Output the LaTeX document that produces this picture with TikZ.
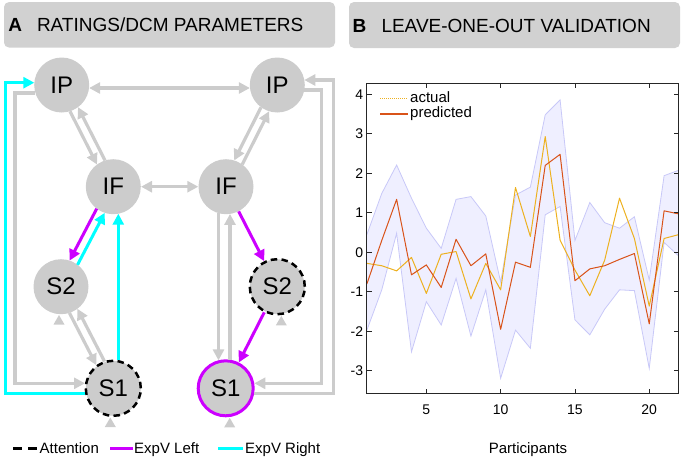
\documentclass[tikz,border=0pt]{standalone}
\usepackage{fontspec}
\setmainfont{Liberation Sans}
\usetikzlibrary{arrows.meta,calc}
\definecolor{lgray}{RGB}{204,204,204}
\definecolor{hdrgray}{RGB}{209,209,209}
\definecolor{mag}{RGB}{204,0,255}
\definecolor{cyn}{RGB}{0,255,255}
\definecolor{mred}{RGB}{217,83,25}
\definecolor{myel}{RGB}{237,177,32}
\definecolor{bandf}{RGB}{239,239,255}
\definecolor{bande}{RGB}{200,200,248}
\definecolor{axc}{RGB}{38,38,38}
\begin{document}
\begin{tikzpicture}[x=1pt,y=-1pt,
  >={Triangle[length=11pt,width=11pt]},
  region/.style={circle,fill=lgray,minimum size=55pt,inner sep=0pt,font=\fontsize{24}{24}\selectfont},
  attn/.style={draw=black,line width=2.5pt,dash pattern=on 6.5pt off 4.3pt},
  expl/.style={draw=mag,line width=3pt},
  link/.style={draw=lgray,line width=3.2pt,->},
  maglink/.style={draw=mag,line width=3pt,->},
  cyanlink/.style={draw=cyn,line width=3pt,->},
  hdr/.style={fill=hdrgray,rounded corners=5pt,inner sep=0pt},
  hdrtext/.style={anchor=base west,inner sep=0pt,font=\fontsize{19}{22}\selectfont},
  legtext/.style={anchor=base west,inner sep=0pt,font=\fontsize{15}{18}\selectfont},
  ticklab/.style={inner sep=0pt,font=\fontsize{14}{16}\selectfont},
  intri/.style={fill=lgray}
]
\useasboundingbox (0,0) rectangle (683,459);

% ---------- headers ----------
\node[hdr,minimum width=331pt,minimum height=45.5pt] (hA) at (169.5,24.8) {};
\node[hdr,minimum width=331pt,minimum height=46pt] (hB) at (514.5,25) {};
\node[hdrtext] (tA) at (8.3,31.9) {\textbf{A}};
\node[hdrtext] (tAt) at (36.8,31.9) {RATINGS/DCM PARAMETERS};
\node[hdrtext] (tB) at (352.5,32.2) {\textbf{B}};
\node[hdrtext] (tBt) at (381.3,32.2) {LEAVE-ONE-OUT VALIDATION};

% ---------- nodes ----------
\node[region] (IPL) at (61.7,85) {IP};
\node[region] (IPR) at (277.3,85) {IP};
\node[region] (IFL) at (113.3,186.7) {IF};
\node[region] (IFR) at (226,186.7) {IF};
\node[region] (S2L) at (61,286.7) {S2};
\node[region,attn] (S2R) at (277.3,286.7) {S2};
\node[region,attn] (S1L) at (113.3,388.3) {S1};
\node[region,expl] (S1R) at (225.7,388.3) {S1};

% ---------- gray connectors ----------
\draw[link,<->,shorten <=27.4pt,shorten >=27.4pt] ($(IPL.center)+(0,3)$) -- ($(IPR.center)+(0,3)$);
\draw[link,<->] (IFL) -- (IFR);
% IP-IF left
\draw[link,shorten <=27.1pt,shorten >=27.1pt] ($(IFL.center)!4.5pt!-90:(IPL.center)$) -- ($(IPL.center)!4.5pt!90:(IFL.center)$);
\draw[link,shorten <=27.1pt,shorten >=27.1pt] ($(IPL.center)!4.5pt!-90:(IFL.center)$) -- ($(IFL.center)!4.5pt!90:(IPL.center)$);
% IP-IF right
\draw[link,shorten <=27.1pt,shorten >=27.1pt] ($(IFR.center)!4.5pt!-90:(IPR.center)$) -- ($(IPR.center)!4.5pt!90:(IFR.center)$);
\draw[link,shorten <=27.1pt,shorten >=27.1pt] ($(IPR.center)!4.5pt!-90:(IFR.center)$) -- ($(IFR.center)!4.5pt!90:(IPR.center)$);
% S2-S1 left
\draw[link,shorten <=27.8pt,shorten >=27.1pt] ($(S1L.center)!4.5pt!-90:(S2L.center)$) -- ($(S2L.center)!4.5pt!90:(S1L.center)$);
\draw[link,shorten <=27.1pt,shorten >=28.4pt] ($(S2L.center)!4.5pt!-90:(S1L.center)$) -- ($(S1L.center)!4.5pt!90:(S2L.center)$);
% IF-S1 right
\draw[link,shorten <=26.6pt,shorten >=27.9pt] ($(IFR.center)+(-7.5,0)$) -- ($(S1R.center)+(-7.2,0)$);
\draw[link,shorten <=28.5pt,shorten >=27.2pt] ($(S1R.center)+(4.3,0)$) -- ($(IFR.center)+(4,0)$);
% outer loops
\draw[link] ($(IPL.center)+(-26.3,8)$) -- ++(-20.4,0) |- ($(S1L.center)+(-28.3,-5)$);
\draw[link] ($(IPR.center)+(27,5)$) -- ++(17.4,0) |- ($(S1R.center)+(28.6,-5)$);
\draw[link] ($(S1R.center)+(28.6,5)$) -- ++(79,0) |- ($(IPR.center)+(27,-5)$);

% ---------- ExpV connectors ----------
\draw[maglink,shorten <=27.1pt,shorten >=27.1pt] ($(IFL.center)!4.5pt!-90:(S2L.center)$) -- ($(S2L.center)!4.5pt!90:(IFL.center)$);
\draw[cyanlink,shorten <=27.1pt,shorten >=27.1pt] ($(S2L.center)!4.5pt!-90:(IFL.center)$) -- ($(IFL.center)!4.5pt!90:(S2L.center)$);
\draw[cyanlink,shorten <=28.3pt,shorten >=27pt] ($(S1L.center)+(5,0)$) -- ($(IFL.center)+(5,0)$);
\draw[cyanlink] ($(S1L.center)+(-28.3,5)$) -- ++(-80,0) |- ($(IPL.center)+(-27.4,-2.3)$);
\draw[maglink] (IFR) -- (S2R);
\draw[maglink] (S2R) -- (S1R);

% ---------- input triangles ----------
\fill[intri] ($(S2L.center)+(-2,28.3)$) -- ++(5.5,9.5) -- ++(-11,0) -- cycle;
\fill[intri] ($(S1L.center)+(-3,29.2)$) -- ++(5.5,9.5) -- ++(-11,0) -- cycle;
\fill[intri] ($(S2R.center)+(4,29.2)$) -- ++(5.5,9.5) -- ++(-11,0) -- cycle;
\fill[intri] ($(S1R.center)+(4,29.5)$) -- ++(5.5,9.5) -- ++(-11,0) -- cycle;

% ---------- legend A ----------
\coordinate (la1) at (13.3,448.3); \coordinate (la2) at (36.7,448.3);
\coordinate (lb1) at (110,448.3); \coordinate (lb2) at (133.3,448.3);
\coordinate (lc1) at (218.3,448.3); \coordinate (lc2) at (243.3,448.3);
\draw[black,line width=3.2pt,dash pattern=on 8.4pt off 6.6pt] (la1) -- (la2);
\draw[mag,line width=3.2pt] (lb1) -- (lb2);
\draw[cyn,line width=3.2pt] (lc1) -- (lc2);
\node[legtext] (l1) at (39.5,453.5) {Attention};
\node[legtext] (l2) at (134,453.5) {ExpV Left};
\node[legtext] (l3) at (245,453.5) {ExpV Right};

% ---------- plot B ----------
\begin{scope}[shift={(352.04,252.3)},x=14.86pt,y=39.5pt]
  \begin{scope}
    \clip (1,-3.587) rectangle (22,4.286);
    \fill[bandf] (1,0.45) -- (2,1.49) -- (3,2.21) -- (4,1.37) -- (5,0.61) -- (6,0.10) -- (7,1.34) -- (8,1.41) -- (9,0.92) -- (10,-0.75) -- (11,1.45) -- (12,1.65) -- (13,3.48) -- (14,3.86) -- (15,0.30) -- (16,1.26) -- (17,0.75) -- (18,0.61) -- (19,0.90) -- (20,-0.70) -- (21,1.94) -- (22,2.08)
      -- (22,-0.10) -- (21,0.25) -- (20,-2.94) -- (19,-0.97) -- (18,-0.95) -- (17,-1.44) -- (16,-2.09) -- (15,-1.71) -- (14,1.16) -- (13,0.95) -- (12,-2.43) -- (11,-1.97) -- (10,-3.19) -- (9,-0.95) -- (8,-2.12) -- (7,-0.66) -- (6,-1.84) -- (5,-1.25) -- (4,-2.52) -- (3,0.48) -- (2,-0.95) -- (1,-1.97) -- cycle;
    \draw[bande,line width=0.8pt] (1,0.45) -- (2,1.49) -- (3,2.21) -- (4,1.37) -- (5,0.61) -- (6,0.10) -- (7,1.34) -- (8,1.41) -- (9,0.92) -- (10,-0.75) -- (11,1.45) -- (12,1.65) -- (13,3.48) -- (14,3.86) -- (15,0.30) -- (16,1.26) -- (17,0.75) -- (18,0.61) -- (19,0.90) -- (20,-0.70) -- (21,1.94) -- (22,2.08);
    \draw[bande,line width=0.8pt] (1,-1.97) -- (2,-0.95) -- (3,0.48) -- (4,-2.52) -- (5,-1.25) -- (6,-1.84) -- (7,-0.66) -- (8,-2.12) -- (9,-0.95) -- (10,-3.19) -- (11,-1.97) -- (12,-2.43) -- (13,0.95) -- (14,1.16) -- (15,-1.71) -- (16,-2.09) -- (17,-1.44) -- (18,-0.95) -- (19,-0.97) -- (20,-2.94) -- (21,0.25) -- (22,-0.10);
    \draw[myel,line width=1pt,line join=round] (1,-0.28) -- (2,-0.34) -- (3,-0.47) -- (4,-0.13) -- (5,-1.04) -- (6,-0.05) -- (7,0.02) -- (8,-1.18) -- (9,-0.28) -- (10,-0.95) -- (11,1.64) -- (12,0.40) -- (13,2.93) -- (14,0.31) -- (15,-0.45) -- (16,-1.10) -- (17,-0.20) -- (18,1.37) -- (19,0.35) -- (20,-1.36) -- (21,0.35) -- (22,0.45);
    \draw[mred,line width=1pt,line join=round] (1,-0.80) -- (2,0.30) -- (3,1.34) -- (4,-0.57) -- (5,-0.32) -- (6,-0.89) -- (7,0.33) -- (8,-0.34) -- (9,-0.04) -- (10,-1.95) -- (11,-0.25) -- (12,-0.38) -- (13,2.20) -- (14,2.48) -- (15,-0.72) -- (16,-0.42) -- (17,-0.34) -- (18,-0.18) -- (19,-0.03) -- (20,-1.81) -- (21,1.05) -- (22,0.97);
  \end{scope}
  \node[draw=axc,line width=1pt,inner sep=0pt,fit/.style={},minimum width=312.06pt,minimum height=310.6pt] (axes) at (11.5,0.3495) {};
  \foreach \v in {-3,...,4} {
    \draw[axc,line width=0.8pt] (1,\v) -- ++(5pt,0);
    \draw[axc,line width=0.8pt] (22,\v) -- ++(-5pt,0);
    \node[ticklab,anchor=east] (ty\v) at ([xshift=-3.6pt]1,\v) {\v};
  }
  \foreach \i in {5,10,15,20} {
    \draw[axc,line width=0.8pt] (\i,-3.587) -- ++(0,5pt);
    \draw[axc,line width=0.8pt] (\i,4.286) -- ++(0,-5pt);
    \node[ticklab] (tx\i) at ([yshift=-15.3pt]\i,-3.587) {\i};
  }
\end{scope}
\node[legtext,anchor=base] (xl) at (528,453.8) {Participants};
% plot legend
\coordinate (pa1) at (380,98.3); \coordinate (pa2) at (407.7,98.3);
\coordinate (pb1) at (380,114); \coordinate (pb2) at (407.7,114);
\draw[myel,line width=1pt,dash pattern=on 1pt off 1pt] (pa1) -- (pa2);
\draw[mred,line width=1.2pt] (pb1) -- (pb2);
\node[legtext] (pl1) at (410,102.7) {actual};
\node[legtext] (pl2) at (410,117.7) {predicted};
\end{tikzpicture}
\end{document}
